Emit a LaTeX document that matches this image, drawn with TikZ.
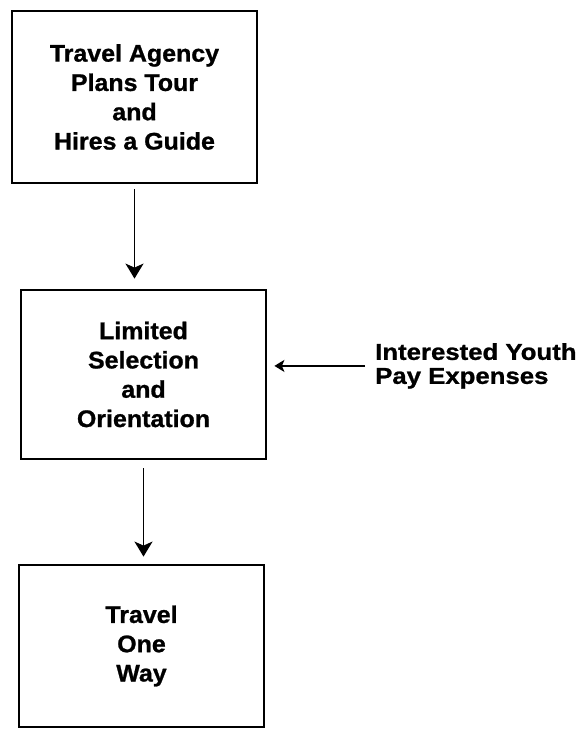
\documentclass[tikz,border=0pt]{standalone}
\usepackage{fontspec}
\setmainfont{Liberation Sans}[FakeStretch=1.04, BoldFeatures={FakeBold=1}]
\usetikzlibrary{arrows.meta}
\begin{document}
\begin{tikzpicture}[x=1pt,y=-1pt,
  stagebox/.style={draw, line width=2.8pt, minimum width=245pt, align=center,
    font=\fontsize{24}{29.3}\selectfont\bfseries, inner sep=0pt},
  sidetext/.style={align=left, inner sep=0pt,
    font=\fontsize{23}{24}\selectfont\bfseries\addfontfeature{FakeStretch=1.12}},
  flow/.style={line width=1.8pt, -{Stealth[length=15pt,width=18pt,inset=4pt]}},
  feed/.style={line width=1.5pt, -{Stealth[length=10pt,width=12pt,inset=2.5pt]}}]
\useasboundingbox (0,0) rectangle (583,735);
\node[stagebox, minimum height=172pt] (b1) at (134.5,97)
  {Travel Agency\\Plans Tour\\and\\Hires a Guide};
\node[stagebox, minimum height=169pt] (b2) at (143.5,374.5)
  {Limited\\Selection\\and\\Orientation};
\node[stagebox, minimum height=162pt] (b3) at (141.5,646)
  {Travel\\One\\Way};
\node[sidetext, anchor=north west] (yt) at (375,343)
  {Interested Youth\\Pay Expenses};
\draw[flow, shorten <=5pt, shorten >=10pt] (b1.south) -- (b1.south |- b2.north);
\draw[flow, shorten <=8pt, shorten >=7pt] (b2.south) -- (b2.south |- b3.north);
\coordinate (src) at ([xshift=-10pt]yt.west);
\draw[feed, shorten >=7pt] (src) -- (src -| b2.east);
\end{tikzpicture}
\end{document}
